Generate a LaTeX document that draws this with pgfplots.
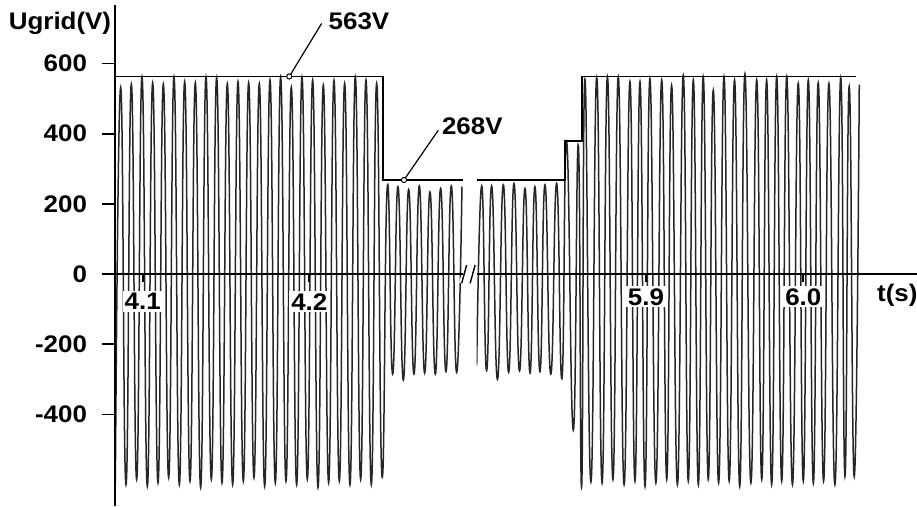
\documentclass[border=0pt]{standalone}
\usepackage{pgfplots}
\pgfplotsset{compat=1.18}
\usepackage{pgfplotstable}
\usepackage{fontspec}
\setmainfont{Liberation Sans}[FakeStretch=1.08]

% grid voltage, peaks and troughs
\pgfplotstableread{
t u
4.0836 -596
4.0868 532
4.0900 -600
4.0932 541
4.0964 -585
4.0996 562
4.1028 -605
4.1060 545
4.1092 -595
4.1124 541
4.1156 -580
4.1188 562
4.1220 -600
4.1252 548
4.1284 -590
4.1316 545
4.1348 -608
4.1380 562
4.1412 -585
4.1444 560
4.1476 -595
4.1508 542
4.1540 -600
4.1572 548
4.1604 -590
4.1636 545
4.1668 -580
4.1700 542
4.1732 -605
4.1764 553
4.1796 -595
4.1828 561
4.1860 -590
4.1892 532
4.1924 -600
4.1956 561
4.1988 -585
4.2020 553
4.2052 -608
4.2084 538
4.2116 -595
4.2148 552
4.2180 -590
4.2212 543
4.2244 -600
4.2276 562
4.2308 -585
4.2340 553
4.2372 -600
4.2404 543
4.2436 -575
4.2468 249
4.2500 -285
4.2532 249
4.2564 -302
4.2596 241
4.2628 -285
4.2660 251
4.2692 -282
4.2724 234
4.2756 -285
4.2788 244
4.2820 -278
4.2852 251
4.2884 -280
4.2916 249
}\leftwave

\pgfplotstableread{
t u
5.7924 -260
5.7956 251
5.7987 -275
5.8019 251
5.8056 -300
5.8093 254
5.8127 -280
5.8161 258
5.8196 -276
5.8231 244
5.8263 -282
5.8294 249
5.8326 -278
5.8358 254
5.8395 -285
5.8432 258
5.8466 -298
5.8496 377
5.8538 -445
5.8570 367
5.8591 -606
5.8612 555
5.8650 -592
5.8687 560
5.8721 -595
5.8755 562
5.8790 -585
5.8824 562
5.8861 -600
5.8898 548
5.8930 -590
5.8962 548
5.8994 -605
5.9025 557
5.9063 -595
5.9100 553
5.9132 -585
5.9163 538
5.9200 -600
5.9237 566
5.9269 -590
5.9301 553
5.9333 -600
5.9364 562
5.9396 -585
5.9428 524
5.9462 -595
5.9496 562
5.9529 -590
5.9563 553
5.9596 -605
5.9629 570
5.9667 -595
5.9704 553
5.9736 -585
5.9767 553
5.9799 -600
5.9831 562
5.9863 -590
5.9895 562
5.9931 -600
5.9968 543
6.0000 -590
6.0032 553
6.0064 -596
6.0095 545
6.0129 -590
6.0163 543
6.0201 -600
6.0238 560
6.0265 -577
6.0292 535
6.0324 -577
6.0356 540
}\rightwave

\begin{document}
\begin{tikzpicture}[font=\fontsize{12bp}{14bp}\selectfont\bfseries]
\pgfplotsset{
  brk/.style={
    scale only axis, axis on top, clip mode=individual,
    height=250.25bp, ymin=-660, ymax=766,
    axis line style={line width=0.9bp},
    tick style={line width=0.9bp, black},
    tick align=outside,
    hide obscured x ticks=false, hide obscured y ticks=false,
    /pgf/number format/assume math mode=true,
    ticklabel style={font=\fontsize{12bp}{14bp}\selectfont\bfseries},
    xticklabel style={fill=white, inner sep=1bp, yshift=-2bp},
    xtick style={/pgfplots/major tick length=4bp},
  },
  wave/.style={black!85, line width=0.75bp, smooth, tension=0.9, no marks},
  env/.style={black, line width=0.9bp, sharp plot, no marks},
}
\begin{axis}[brk, name=L, at={(0,0)}, anchor=south west,
  width=174.15bp, xmin=4.0834, xmax=4.2924,
  axis x line*=middle, axis y line*=left,
  xtick={4.1,4.2}, xticklabels={4.1,4.2},
  ytick={-400,-200,0,200,400,600},
  yticklabels={-400,-200,0,200,400,600},
  major tick length=6.5bp,
  yticklabel style={xshift=-4bp},
]
\addplot[wave] table {\leftwave};
\addplot[env] coordinates {(4.0834,563) (4.2440,563) (4.2440,268) (4.2924,268)};
% callouts
\addplot[black, line width=0.6bp, no marks] coordinates {(4.1880,563) (4.2074,714)};
\addplot[black, line width=0.6bp, no marks] coordinates {(4.2568,268) (4.2774,410)};
\addplot[only marks, mark=*, mark size=1.3bp,
  mark options={fill=white, draw=black, line width=0.5bp}]
  coordinates {(4.1880,563) (4.2568,268)};
\node[anchor=west, inner sep=0] at (axis cs:4.2114,719) {563V};
\node[anchor=west, inner sep=0] at (axis cs:4.2794,422) {268V};
\node[inner sep=0] at (axis cs:4.0504,714) {Ugrid(V)};
% break marks
\draw[white, line width=2.5bp] (axis cs:4.2914,-26.5) -- (axis cs:4.2944,25.6);
\draw[black, line width=0.7bp] (axis cs:4.2914,-26.5) -- (axis cs:4.2944,25.6);
\draw[black, line width=0.7bp] (axis cs:4.2965,-26.5) -- (axis cs:4.2995,25.6);
\end{axis}

\begin{axis}[brk, name=R, at={(180.85bp,0)}, anchor=south west,
  width=220.15bp, xmin=5.7924, xmax=6.0723,
  axis x line*=middle, axis y line=none,
  xtick={5.9,6.0}, xticklabels={5.9,6.0}, ytick=\empty,
  major tick length=4bp,
]
\addplot[wave] table {\rightwave};
\addplot[env] coordinates {(5.7924,268) (5.8485,268) (5.8485,380) (5.8591,380) (5.8591,563) (6.0333,563)};
\node[anchor=west, inner sep=0] at (axis cs:6.0467,-60) {t(s)};
\end{axis}

\pgfresetboundingbox
\path[use as bounding box] (-57.5bp,-0.65bp) rectangle ++(458.5bp,253.5bp);
\end{tikzpicture}
\end{document}
